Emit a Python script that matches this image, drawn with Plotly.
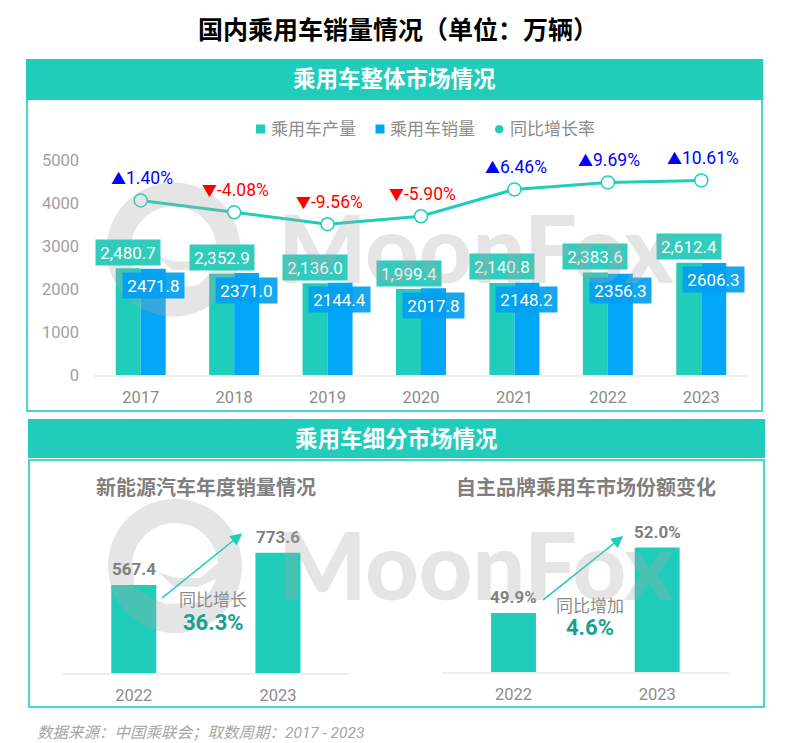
import numpy as np
import plotly.graph_objects as go

# values
years = ["2017", "2018", "2019", "2020", "2021", "2022", "2023"]
output_cars = [2480.7, 2352.9, 2136.0, 1999.4, 2140.8, 2383.6, 2612.4]
sales_cars = [2471.8, 2371.0, 2144.4, 2017.8, 2148.2, 2356.3, 2606.3]
growth_rate = [1.40, -4.08, -9.56, -5.90, 6.46, 9.69, 10.61]

nev_years = ["2022", "2023"]
nev_sales = [567.4, 773.6]
brand_years = ["2022", "2023"]
brand_share = [49.9, 52.0]

TEAL = "#20CDBA"
BLUE = "#02A6F7"
BORDER = "#45DAC9"
GREY = "#8C8C8C"
CJK = "Roboto, 'Noto Sans CJK SC', sans-serif"
W, H = 800, 743


def px(x):
    return x / W


def py(y):
    return 1 - y / H


def dom_x(a, b):
    return [px(a), px(b)]


def dom_y(top, bottom):
    return [py(bottom), py(top)]


def label(x, y, text, size=17, color=GREY, bold=False, **kw):
    # free text placed in page pixels
    txt = f"<b>{text}</b>" if bold else text
    return dict(xref="paper", yref="paper", x=px(x), y=py(y), text=txt, showarrow=False,
                xanchor=kw.pop("xanchor", "center"), yanchor="middle",
                font=dict(family=CJK, size=size, color=color), **kw)


def logo_path(cx, cy):
    # MoonFox logo, no arcs allowed in shape paths so the circles are polylines
    t = np.linspace(0, 2 * np.pi, 90, endpoint=False)
    pts = [(cx + 67 * np.cos(a), cy + 67 * np.sin(a)) for a in t]
    outer = "M" + " L".join(f"{px(a):.5f},{py(b):.5f}" for a, b in pts) + " Z"
    # inner hole: top arc, then back along the swoosh and round the lower part
    arc1 = np.linspace(np.pi * 1.02, np.pi * 1.98, 40)
    hole = [(cx + 43 * np.cos(a), cy + 43 * np.sin(a)) for a in arc1]
    hole += [(cx + 25, cy + 12), (cx + 2, cy + 12), (cx - 17, cy + 6), (cx - 2, cy + 20),
             (cx + 22, cy + 21), (cx + 41, cy + 13)]
    arc2 = np.linspace(np.pi * 0.1, np.pi * 0.32, 12)
    hole += [(cx + 43 * np.cos(a), cy + 43 * np.sin(a)) for a in arc2]
    hole += [(cx - 10, cy + 38), (cx - 40, cy + 22)]
    inner = "M" + " L".join(f"{px(a):.5f},{py(b):.5f}" for a, b in hole) + " Z"
    return outer + " " + inner


fig = go.Figure()

# top chart
fig.add_trace(go.Bar(x=years, y=output_cars, name="乘用车产量", marker_color=TEAL, marker_line_width=0,
                     xaxis="x", yaxis="y", showlegend=False))
fig.add_trace(go.Bar(x=years, y=sales_cars, name="乘用车销量", marker_color=BLUE, marker_line_width=0,
                     xaxis="x", yaxis="y", showlegend=False))
fig.add_trace(go.Scatter(x=years, y=growth_rate, name="同比增长率", mode="lines+markers",
                         line=dict(color=TEAL, width=3),
                         marker=dict(size=13, color="white", line=dict(color=TEAL, width=1.5)),
                         xaxis="x", yaxis="y2", showlegend=False))

# lower charts
fig.add_trace(go.Bar(x=nev_years, y=nev_sales, width=0.3125, marker_color=TEAL, marker_line_width=0,
                     xaxis="x2", yaxis="y3", showlegend=False))
fig.add_trace(go.Bar(x=brand_years, y=brand_share, width=0.3125, marker_color=TEAL, marker_line_width=0,
                     xaxis="x3", yaxis="y4", showlegend=False))

shapes = [
    # frames and header bands
    dict(type="rect", xref="paper", yref="paper", x0=px(27), x1=px(762), y0=py(411), y1=py(60),
         line=dict(color=BORDER, width=2), layer="below"),
    dict(type="rect", xref="paper", yref="paper", x0=px(26), x1=px(763), y0=py(100), y1=py(59),
         fillcolor=TEAL, line_width=0, layer="below"),
    dict(type="rect", xref="paper", yref="paper", x0=px(29), x1=px(764), y0=py(707), y1=py(460),
         line=dict(color=BORDER, width=2), layer="below"),
    dict(type="rect", xref="paper", yref="paper", x0=px(28), x1=px(765), y0=py(458), y1=py(419),
         fillcolor=TEAL, line_width=0, layer="below"),
    # legend keys
    dict(type="rect", xref="paper", yref="paper", x0=px(256), x1=px(265), y0=py(133.5), y1=py(124.5),
         fillcolor=TEAL, line_width=0),
    dict(type="rect", xref="paper", yref="paper", x0=px(375.5), x1=px(384.5), y0=py(133.5), y1=py(124.5),
         fillcolor=BLUE, line_width=0),
    dict(type="circle", xref="paper", yref="paper", x0=px(495), x1=px(503.5), y0=py(133.5), y1=py(125),
         fillcolor=TEAL, line_width=0),
    # watermark logos
    dict(type="path", xref="paper", yref="paper", path=logo_path(173.5, 249.5),
         fillcolor="rgba(170,170,170,0.3)", line_width=0),
    dict(type="path", xref="paper", yref="paper", path=logo_path(175, 566),
         fillcolor="rgba(170,170,170,0.3)", line_width=0),
]

annotations = [
    label(394.5, 79, "乘用车整体市场情况", size=22.5, color="white", bold=True),
    label(396.5, 439, "乘用车细分市场情况", size=22.5, color="white", bold=True),
    label(205.5, 488, "新能源汽车年度销量情况", size=20, color="#7F7F7F", bold=True),
    label(586, 488, "自主品牌乘用车市场份额变化", size=20, color="#7F7F7F", bold=True),
    label(269, 129, "乘用车产量", xanchor="left"),
    label(388, 129, "乘用车销量", xanchor="left"),
    label(508, 129, "同比增长率", xanchor="left"),
    label(213, 600, "同比增长"),
    label(213, 622, "36.3%", size=22, color="#17A08F", bold=True),
    label(590, 606, "同比增加"),
    label(590, 627, "4.6%", size=22, color="#17A08F", bold=True),
    label(35, 733, "<i>数据来源：中国乘联会；取数周期：2017 - 2023</i>", size=15.5, color="#A6A6A6", xanchor="left"),
]

# value boxes on the top bars, x is the category index because the years look numeric
for i, v in enumerate(output_cars):
    annotations.append(dict(x=i, y=v, xref="x", yref="y", text=f"{v:,.1f}", showarrow=False,
                            xshift=-12.4, yshift=16, width=64, height=25, borderpad=0,
                            bgcolor="rgba(32,200,182,0.92)",
                            font=dict(family=CJK, size=17, color="white")))
for i, v in enumerate(sales_cars):
    annotations.append(dict(x=i, y=v, xref="x", yref="y", text=f"{v:.1f}", showarrow=False,
                            xshift=12.4, yshift=-17, width=61, height=25, borderpad=0,
                            bgcolor="rgba(2,160,240,0.92)",
                            font=dict(family=CJK, size=17, color="white")))

# growth labels over the line
for i, g in enumerate(growth_rate):
    mark = "▲" if g > 0 else "▼"
    annotations.append(dict(x=i, y=g, xref="x", yref="y2",
                            text=f"<span style='font-size:15px'>{mark}</span>{g:.2f}%", showarrow=False,
                            xshift=1.5, yshift=22.5,
                            font=dict(family=CJK, size=17.5, color="#0000FF" if g > 0 else "#FF0000")))

# values on the lower bars
for i, v in enumerate(nev_sales):
    annotations.append(dict(x=i, y=v, xref="x2", yref="y3", text=f"<b>{v:.1f}</b>", showarrow=False,
                            yshift=16, font=dict(family=CJK, size=17, color="#7F7F7F")))
for i, v in enumerate(brand_share):
    annotations.append(dict(x=i, y=v, xref="x3", yref="y4", text=f"<b>{v:.1f}%</b>", showarrow=False,
                            yshift=16, font=dict(family=CJK, size=17, color="#7F7F7F")))

# growth arrows
for x0, y0, x1, y1 in [(160.7, 599, 242.3, 533.3), (541.7, 601, 623.3, 536)]:
    annotations.append(dict(xref="paper", yref="paper", x=px(x1), y=py(y1), ax=x0 - x1, ay=y0 - y1,
                            axref="pixel", ayref="pixel", text="", showarrow=True,
                            arrowhead=2, arrowsize=1.6, arrowwidth=1.5, arrowcolor=TEAL))

# watermark text goes last so it sits over the boxes
for x, y in [(476.5, 247), (476.5, 564)]:
    annotations.append(dict(xref="paper", yref="paper", x=px(x), y=py(y), text="MoonFox", showarrow=False,
                            xanchor="center", yanchor="middle",
                            font=dict(family="Lato", size=93, weight=900, color="rgba(170,170,170,0.3)")))

tick_font = dict(family=CJK, size=16.5, color=GREY)
axis_line = dict(showline=True, linecolor="#EEEEEE", linewidth=1.5, showgrid=False, zeroline=False,
                 ticks="", type="category", tickfont=tick_font)

fig.update_layout(
    template="none",
    width=W, height=H, margin=dict(l=0, r=0, t=0, b=0), autosize=False,
    paper_bgcolor="white", plot_bgcolor="rgba(0,0,0,0)",
    barmode="group", bargap=0.465, bargroupgap=0,
    title=dict(text="<b>国内乘用车销量情况（单位：万辆）</b>", x=398 / W, xanchor="center",
               y=py(30), yanchor="middle", font=dict(family=CJK, size=25, color="black")),
    xaxis=dict(domain=dom_x(94, 748), range=[-0.5, 6.5], anchor="y", ticklabelstandoff=6, **axis_line),
    yaxis=dict(domain=dom_y(160, 375), range=[0, 5000], anchor="x", tickvals=[0, 1000, 2000, 3000, 4000, 5000],
               showgrid=False, zeroline=False, showline=False, ticks="", ticklabelstandoff=14,
               tickfont=dict(family=CJK, size=16.5, color="#A0A0A0")),
    yaxis2=dict(domain=dom_y(160, 375), range=[-79, 20], overlaying="y", anchor="x", side="right", visible=False),
    xaxis2=dict(domain=dom_x(61.7, 350), range=[-0.5, 1.5], anchor="y3", ticklabelstandoff=6, **axis_line),
    yaxis3=dict(domain=dom_y(517.5, 673.3), range=[0, 1000], anchor="x2", visible=False),
    xaxis3=dict(domain=dom_x(441.7, 729), range=[-0.5, 1.5], anchor="y4", ticklabelstandoff=6, **axis_line),
    yaxis4=dict(domain=dom_y(516.3, 672.3), range=[48, 53], anchor="x3", visible=False),
    shapes=shapes,
    annotations=annotations,
)

fig.write_html("out.html", config=dict(displayModeBar=False), post_script="document.body.style.margin='0';")
